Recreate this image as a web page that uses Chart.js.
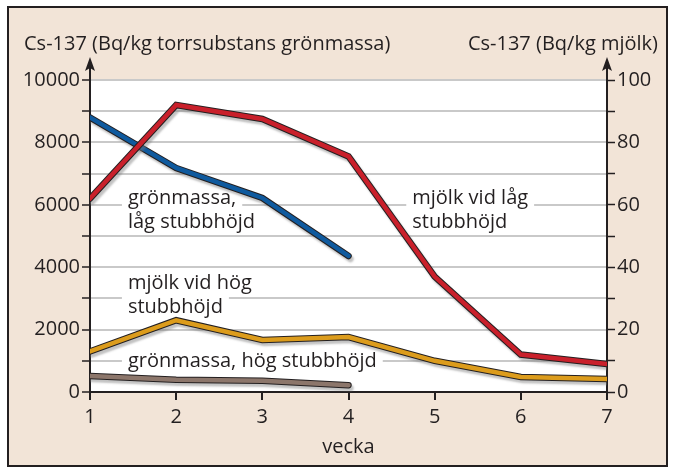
<!DOCTYPE html>
<html>
<head>
<meta charset="utf-8">
<script src="https://cdn.jsdelivr.net/npm/chart.js@4"></script>
<style>
  html, body { margin: 0; padding: 0; background: #fff; }
  #wrap { width: 675px; height: 471px; }
</style>
</head>
<body>
<div id="wrap"><canvas id="chart" width="675" height="471"></canvas></div>
<script>
// week numbers on the x axis
const weeks = [1, 2, 3, 4, 5, 6, 7];

// Bq/kg mjölk (right axis)
const milkLow = [62, 92, 87.5, 75.5, 37, 12, 9];
const milkHigh = [13, 23, 16.7, 17.6, 10, 4.8, 4.2];

// Bq/kg torrsubstans grönmassa (left axis), measured weeks 1-4
const grassLow = [8800, 7180, 6220, 4360];
const grassHigh = [510, 390, 360, 220];

const leftTicks = [0, 2000, 4000, 6000, 8000, 10000];
const rightTicks = [0, 20, 40, 60, 80, 100];

const FONT = 'Open Sans';
const SIZE = 20;
const INK = '#231f20';

function toPoints(values) {
    return values.map((v, i) => ({ x: weeks[i], y: v }));
}

// Chart.js paints the first dataset last, so the coloured line goes first
// and its black outline (with shadow) second
function series(values, color, axis) {
    const pts = toPoints(values);
    return [
        { data: pts, yAxisID: axis, borderColor: color, borderWidth: 4.5 },
        { data: pts, yAxisID: axis, borderColor: INK, borderWidth: 6.5, outline: true }
    ];
}

const frame = {
    id: 'frame',
    beforeDraw(chart) {
        const { ctx, chartArea: a } = chart;
        ctx.save();
        ctx.fillStyle = '#f2e4d7';
        ctx.fillRect(8, 7, 659, 459);
        ctx.strokeStyle = INK;
        ctx.lineWidth = 2;
        ctx.strokeRect(8, 7, 659, 459);
        ctx.fillStyle = '#ffffff';
        ctx.fillRect(a.left, a.top, a.right - a.left, a.bottom - a.top);
        ctx.fillStyle = INK;
        ctx.font = SIZE + 'px "' + FONT + '"';
        ctx.textBaseline = 'middle';
        ctx.textAlign = 'left';
        ctx.fillText('Cs-137 (Bq/kg torrsubstans grönmassa)', 24, 44);
        ctx.textAlign = 'right';
        ctx.fillText('Cs-137 (Bq/kg mjölk)', 658, 44);
        ctx.restore();
    },
    beforeDatasetsDraw(chart) {
        const { ctx, scales } = chart;
        const x = scales.x, y = scales.yL;
        const labels = [
            [1.44, 6200, ['grönmassa,', 'låg stubbhöjd']],
            [4.74, 6200, ['mjölk vid låg', 'stubbhöjd']],
            [1.44, 3490, ['mjölk vid hög', 'stubbhöjd']],
            [1.44, 990, ['grönmassa, hög stubbhöjd']]
        ];
        ctx.save();
        ctx.font = SIZE + 'px "' + FONT + '"';
        ctx.textBaseline = 'middle';
        ctx.textAlign = 'left';
        labels.forEach(([wx, wy, lines]) => {
            const px = x.getPixelForValue(wx);
            const py = y.getPixelForValue(wy);
            lines.forEach((t, i) => {
                const w = ctx.measureText(t).width;
                ctx.fillStyle = '#ffffff';
                ctx.fillRect(px - 6, py + i * 24 - 12, w + 12, 24);
            });
            lines.forEach((t, i) => {
                ctx.fillStyle = INK;
                ctx.fillText(t, px, py + i * 24);
            });
        });
        ctx.restore();
    },
    beforeDatasetDraw(chart, args) {
        if (args.meta._dataset.outline) {
            const ctx = chart.ctx;
            ctx.save();
            ctx.shadowColor = 'rgba(120,120,120,0.45)';
            ctx.shadowOffsetX = 2;
            ctx.shadowOffsetY = 3;
            ctx.shadowBlur = 2;
        }
    },
    afterDatasetDraw(chart, args) {
        if (args.meta._dataset.outline) chart.ctx.restore();
    },
    afterDraw(chart) {
        const { ctx, chartArea: a } = chart;
        ctx.save();
        ctx.strokeStyle = INK;
        ctx.fillStyle = INK;
        ctx.lineWidth = 2;
        [a.left, a.right].forEach(px => {
            ctx.beginPath();
            ctx.moveTo(px, a.top);
            ctx.lineTo(px, a.top - 14);
            ctx.stroke();
            ctx.beginPath();
            ctx.moveTo(px, a.top - 23);
            ctx.lineTo(px - 5, a.top - 9);
            ctx.lineTo(px, a.top - 12);
            ctx.lineTo(px + 5, a.top - 9);
            ctx.closePath();
            ctx.fill();
        });
        ctx.restore();
    }
};

new Chart(document.getElementById('chart'), {
    type: 'line',
    data: {
        datasets: [
            ...series(milkLow, '#c9202b', 'yR'),
            ...series(grassLow, '#0f5a9e', 'yL'),
            ...series(milkHigh, '#dc9c1c', 'yR'),
            ...series(grassHigh, '#8c766b', 'yL')
        ]
    },
    options: {
        responsive: false,
        animation: false,
        layout: { padding: { top: 80, left: 0, right: 0, bottom: 0 } },
        elements: {
            point: { radius: 0 },
            line: { tension: 0, borderCapStyle: 'round', borderJoinStyle: 'miter' }
        },
        plugins: { legend: { display: false }, tooltip: { enabled: false } },
        scales: {
            x: {
                type: 'linear',
                min: 1, max: 7,
                afterFit: s => { s.height = 79; },
                afterBuildTicks: s => { s.ticks = weeks.map(v => ({ value: v })); },
                grid: { drawOnChartArea: false, tickLength: 8, tickColor: INK, lineWidth: 2 },
                border: { color: INK, width: 2 },
                ticks: { color: INK, font: { family: FONT, size: SIZE }, padding: 5 },
                title: { display: true, text: 'vecka', color: INK, font: { family: FONT, size: SIZE }, padding: { top: 0, bottom: 12 } }
            },
            yL: {
                position: 'left',
                min: 0, max: 10000,
                afterFit: s => { s.width = 90; },
                ticks: {
                    stepSize: 1000,
                    color: INK,
                    font: { family: FONT, size: SIZE },
                    padding: 2,
                    callback: v => leftTicks.includes(v) ? String(v) : ''
                },
                grid: { color: '#c9c9c9', lineWidth: 2, tickLength: 8, tickColor: INK, tickWidth: 1.5 },
                border: { color: INK, width: 2 }
            },
            yR: {
                position: 'right',
                min: 0, max: 100,
                afterFit: s => { s.width = 68; },
                ticks: {
                    stepSize: 10,
                    color: INK,
                    font: { family: FONT, size: SIZE },
                    padding: 2,
                    callback: v => rightTicks.includes(v) ? String(v) : ''
                },
                grid: { drawOnChartArea: false, tickLength: 8, tickColor: INK, tickWidth: 1.5 },
                border: { color: INK, width: 2 }
            }
        }
    },
    plugins: [frame]
});
</script>
</body>
</html>
